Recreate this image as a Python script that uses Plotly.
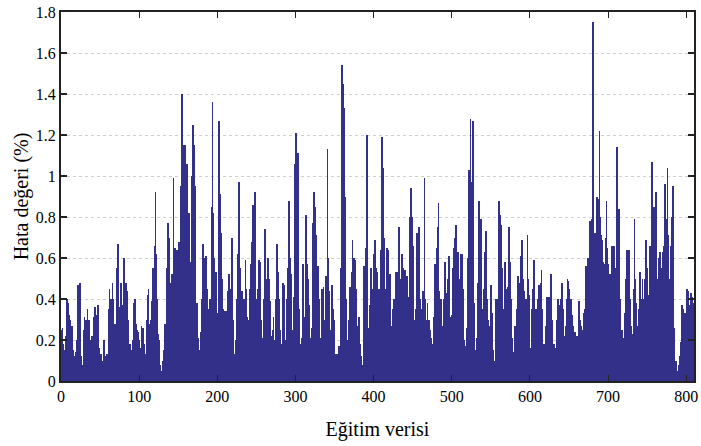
import plotly.graph_objects as go

# Error values (%) for each training sample
err_001_100 = [
    0.25, 0.26, 0.18, 0.15, 0.12, 0.22, 0.30, 0.40, 0.38, 0.32,
    0.25, 0.30, 0.22, 0.27, 0.15, 0.10, 0.04, 0.12, 0.14, 0.20,
    0.26, 0.47, 0.40, 0.48, 0.20, 0.12, 0.08, 0.05, 0.25, 0.31,
    0.22, 0.30, 0.25, 0.35, 0.28, 0.30, 0.20, 0.10, 0.15, 0.22,
    0.18, 0.31, 0.25, 0.36, 0.30, 0.32, 0.37, 0.20, 0.16, 0.10,
    0.13, 0.08, 0.10, 0.05, 0.20, 0.12, 0.08, 0.04, 0.13, 0.10,
    0.35, 0.45, 0.30, 0.40, 0.38, 0.48, 0.40, 0.27, 0.28, 0.20,
    0.32, 0.55, 0.67, 0.36, 0.30, 0.45, 0.48, 0.25, 0.37, 0.52,
    0.60, 0.40, 0.48, 0.35, 0.44, 0.30, 0.18, 0.10, 0.18, 0.15,
    0.06, 0.20, 0.38, 0.32, 0.40, 0.28, 0.25, 0.12, 0.24, 0.20,
]
err_101_200 = [
    0.16, 0.08, 0.27, 0.22, 0.26, 0.18, 0.13, 0.05, 0.11, 0.30,
    0.42, 0.45, 0.20, 0.28, 0.30, 0.39, 0.35, 0.55, 0.50, 0.66,
    0.92, 0.62, 0.40, 0.23, 0.20, 0.12, 0.08, 0.05, 0.03, 0.10,
    0.02, 0.15, 0.28, 0.20, 0.33, 0.55, 0.77, 0.70, 0.48, 0.48,
    0.48, 0.52, 0.40, 0.99, 0.60, 0.65, 0.50, 0.64, 0.45, 0.51,
    0.68, 0.60, 0.78, 0.95, 1.40, 1.00, 1.15, 0.85, 1.15, 0.95,
    1.06, 0.92, 0.75, 0.82, 0.58, 0.45, 1.00, 0.85, 1.25, 1.15,
    0.95, 0.48, 0.30, 0.38, 0.21, 0.15, 0.07, 0.15, 0.24, 0.40,
    0.50, 0.67, 0.45, 0.60, 0.40, 0.61, 0.45, 0.35, 0.28, 0.40,
    0.30, 0.40, 0.85, 1.36, 0.82, 0.60, 0.45, 0.53, 0.40, 0.33,
]
err_201_300 = [
    0.25, 1.27, 0.91, 0.80, 0.72, 0.50, 0.35, 0.25, 0.30, 0.34,
    0.20, 0.34, 0.30, 0.44, 0.52, 0.40, 0.45, 0.35, 0.70, 0.30,
    0.13, 0.08, 0.04, 0.20, 0.40, 0.62, 0.93, 0.97, 0.55, 0.28,
    0.20, 0.44, 0.30, 0.40, 0.35, 0.59, 0.45, 0.31, 0.20, 0.25,
    0.30, 0.45, 0.57, 0.68, 0.60, 0.86, 0.75, 0.92, 0.58, 0.40,
    0.22, 0.45, 0.59, 0.50, 0.58, 0.30, 0.21, 0.15, 0.21, 0.40,
    0.74, 0.50, 0.19, 0.30, 0.60, 0.50, 0.39, 0.30, 0.22, 0.18,
    0.25, 0.31, 0.20, 0.10, 0.40, 0.67, 0.60, 0.53, 0.40, 0.25,
    0.20, 0.18, 0.12, 0.48, 0.47, 0.30, 0.07, 0.20, 0.40, 0.55,
    0.70, 0.88, 0.60, 0.52, 0.35, 0.19, 0.25, 0.41, 1.06, 0.95,
]
err_301_400 = [
    1.21, 1.05, 1.11, 0.52, 0.35, 0.18, 0.12, 0.21, 0.45, 0.57,
    0.31, 0.28, 0.35, 0.81, 0.57, 0.50, 0.37, 0.25, 0.21, 0.15,
    0.26, 0.77, 0.60, 0.92, 0.85, 0.71, 0.61, 0.50, 0.56, 0.40,
    0.21, 0.10, 0.06, 0.45, 0.38, 0.46, 0.16, 0.30, 0.51, 0.45,
    1.13, 0.60, 0.44, 0.25, 0.11, 0.30, 0.47, 0.35, 0.30, 0.20,
    0.13, 0.10, 0.13, 0.08, 0.05, 0.17, 0.12, 0.55, 1.01, 1.54,
    1.45, 1.33, 0.90, 0.66, 0.40, 0.20, 0.05, 0.30, 0.25, 0.46,
    0.40, 0.53, 0.69, 0.50, 0.60, 0.59, 0.45, 0.16, 0.20, 0.27,
    0.31, 0.22, 0.18, 0.12, 0.06, 0.08, 0.11, 0.56, 0.40, 0.65,
    0.80, 1.20, 0.26, 0.20, 0.37, 0.30, 0.55, 0.45, 0.42, 0.62,
]
err_401_500 = [
    0.50, 0.69, 0.55, 0.48, 0.53, 0.40, 0.45, 0.30, 0.64, 0.90,
    1.19, 1.04, 0.70, 0.57, 0.45, 0.39, 0.65, 0.50, 0.64, 0.45,
    0.52, 0.21, 0.15, 0.27, 0.35, 0.40, 0.30, 0.40, 0.53, 0.48,
    0.53, 0.60, 0.75, 0.35, 0.50, 0.62, 0.45, 0.55, 0.40, 0.54,
    0.08, 0.30, 0.51, 0.35, 0.41, 0.80, 0.70, 0.94, 0.80, 0.66,
    0.46, 0.30, 0.09, 0.35, 0.60, 0.72, 0.55, 0.75, 0.40, 0.25,
    0.30, 0.35, 0.44, 0.21, 0.99, 0.40, 0.25, 0.30, 0.38, 0.20,
    0.30, 0.25, 0.15, 0.21, 0.12, 0.18, 0.31, 0.40, 0.57, 0.50,
    0.65, 0.75, 0.87, 0.44, 0.35, 0.40, 0.15, 0.04, 0.27, 0.40,
    0.58, 0.43, 0.35, 0.43, 0.50, 0.61, 0.40, 0.31, 0.25, 0.32,
]
err_501_600 = [
    0.44, 0.55, 0.65, 0.70, 0.76, 0.31, 0.45, 0.63, 0.40, 0.22,
    0.50, 0.62, 0.62, 0.45, 0.31, 0.20, 0.17, 0.10, 0.15, 0.26,
    0.60, 1.03, 0.95, 1.28, 0.97, 0.85, 1.27, 0.38, 0.20, 0.07,
    0.15, 0.21, 0.48, 0.40, 0.88, 0.70, 0.79, 0.48, 0.35, 0.24,
    0.45, 0.63, 0.60, 0.73, 0.40, 0.30, 0.26, 0.20, 0.27, 0.47,
    0.40, 0.33, 0.15, 0.05, 0.10, 0.05, 0.40, 0.30, 0.40, 0.88,
    0.60, 0.81, 0.76, 0.55, 0.43, 0.30, 0.35, 0.58, 0.45, 0.35,
    0.30, 0.46, 0.75, 0.60, 0.58, 0.40, 0.21, 0.14, 0.14, 0.08,
    0.27, 0.20, 0.35, 0.30, 0.51, 0.48, 0.40, 0.61, 0.55, 0.69,
    0.50, 0.44, 0.40, 0.30, 0.40, 0.35, 0.71, 0.50, 0.42, 0.16,
]
err_601_700 = [
    0.10, 0.29, 0.35, 0.45, 0.59, 0.45, 0.35, 0.25, 0.35, 0.40,
    0.30, 0.47, 0.45, 0.48, 0.54, 0.35, 0.18, 0.12, 0.18, 0.20,
    0.27, 0.41, 0.35, 0.41, 0.25, 0.31, 0.52, 0.30, 0.18, 0.12,
    0.18, 0.16, 0.10, 0.12, 0.30, 0.40, 0.37, 0.30, 0.35, 0.40,
    0.48, 0.35, 0.28, 0.22, 0.15, 0.27, 0.40, 0.50, 0.49, 0.45,
    0.37, 0.30, 0.40, 0.32, 0.27, 0.20, 0.13, 0.24, 0.18, 0.22,
    0.10, 0.14, 0.39, 0.30, 0.27, 0.20, 0.21, 0.25, 0.33, 0.30,
    0.35, 0.56, 0.45, 0.60, 0.40, 0.14, 0.78, 0.55, 0.79, 0.78,
    1.75, 0.60, 0.72, 0.45, 0.36, 0.90, 0.75, 0.89, 1.22, 0.80,
    0.71, 0.69, 0.60, 0.58, 0.45, 0.57, 0.70, 0.88, 0.65, 0.57,
]
err_701_809 = [
    0.30, 0.13, 0.52, 0.45, 0.66, 0.55, 0.66, 0.66, 0.50, 0.55,
    1.14, 1.02, 0.70, 0.84, 0.40, 0.33, 0.20, 0.25, 0.15, 0.21,
    0.25, 0.33, 0.50, 0.64, 0.28, 0.45, 0.64, 0.40, 0.27, 0.15,
    0.19, 0.23, 0.45, 0.79, 0.50, 0.38, 0.27, 0.20, 0.16, 0.35,
    0.53, 0.40, 0.35, 0.50, 0.40, 0.32, 0.50, 0.65, 0.69, 0.55,
    0.42, 0.30, 0.36, 0.66, 0.60, 1.07, 0.75, 0.65, 0.85, 0.70,
    0.92, 0.60, 0.44, 0.50, 0.60, 0.63, 0.50, 0.43, 0.55, 0.63,
    0.50, 0.66, 0.96, 0.79, 0.70, 1.04, 0.71, 0.50, 0.29, 0.45,
    0.66, 0.80, 0.95, 0.26, 0.15, 0.06, 0.10, 0.05, 0.03, 0.05,
    0.08, 0.12, 0.19, 0.30, 0.37, 0.35, 0.30, 0.33, 0.25, 0.20,
    0.45, 0.40, 0.44, 0.35, 0.37, 0.43, 0.30, 0.41, 0.38,
]

errors = (err_001_100 + err_101_200 + err_201_300 + err_301_400 +
          err_401_500 + err_501_600 + err_601_700 + err_701_809)
samples = list(range(1, len(errors) + 1))

x_ticks = [0, 100, 200, 300, 400, 500, 600, 700, 800]
y_ticks = [0, 0.2, 0.4, 0.6, 0.8, 1.0, 1.2, 1.4, 1.6, 1.8]

FONT = "Liberation Serif"

fig = go.Figure(go.Bar(
    x=samples, y=errors,
    marker=dict(color="#33308A", line=dict(width=0)),
    width=1.0,
))

fig.update_layout(
    width=701, height=446,
    margin=dict(l=61, r=7, t=12, b=65),
    paper_bgcolor="white", plot_bgcolor="white",
    font=dict(family=FONT, size=16, color="black"),
    showlegend=False,
    bargap=0,
)
fig.update_xaxes(
    range=[0, 810], tickvals=x_ticks,
    ticks="inside", ticklen=6, tickwidth=1, tickcolor="#222",
    showline=True, linecolor="#222", linewidth=2, mirror="ticks",
    showgrid=False, zeroline=False, automargin=False,
    tickfont=dict(family=FONT, size=16),
    title=dict(text="Eğitim verisi", font=dict(family=FONT, size=20), standoff=18),
)
fig.update_yaxes(
    range=[0, 1.8], tickvals=y_ticks,
    ticks="inside", ticklen=6, tickwidth=2, tickcolor="#222",
    showline=True, linecolor="#222", linewidth=2, mirror="ticks",
    showgrid=True, gridcolor="#cfcfcf", gridwidth=1, griddash="dot",
    zeroline=False, automargin=False,
    tickfont=dict(family=FONT, size=16),
    title=dict(text="Hata değeri (%)", font=dict(family=FONT, size=20), standoff=2),
)

# remove the browser's default 8px body margin so the figure fills the window
fig.write_html(
    "out.html",
    config={"displayModeBar": False},
    post_script="document.body.style.margin='0';document.body.style.overflow='hidden';",
)
